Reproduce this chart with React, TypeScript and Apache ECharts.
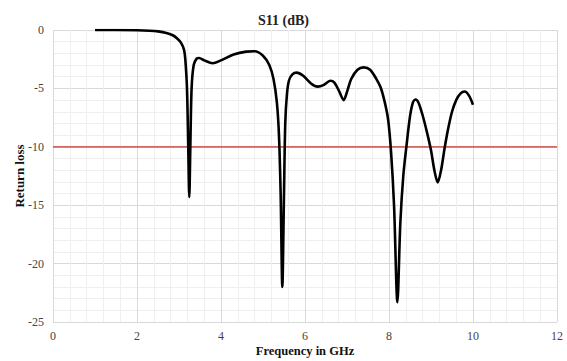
import React, { useEffect, useRef } from "react";
import * as echarts from "echarts";

const freq: number[] = [
  1.0, 1.5, 2.0, 2.3, 2.5, 2.7, 2.85, 2.95, 3.05, 3.12, 3.15, 3.19, 3.22, 3.245, 3.27, 3.3, 3.35, 3.42, 3.48,
  3.6, 3.8, 4.0, 4.3, 4.6, 4.8, 5.0, 5.15, 5.25, 5.33, 5.38, 5.42, 5.46, 5.5, 5.53, 5.57, 5.62, 5.7, 5.8,
  5.95, 6.15, 6.3, 6.45, 6.6, 6.7, 6.82, 6.92, 7.0, 7.1, 7.25, 7.4, 7.55, 7.7, 7.8, 7.9, 7.98, 8.05, 8.12,
  8.2, 8.27, 8.34, 8.42, 8.5, 8.57, 8.63, 8.7, 8.8, 8.9, 9.0, 9.08, 9.16, 9.24, 9.32, 9.4, 9.5, 9.6, 9.7,
  9.8, 9.9, 10.0,
];
const s11: number[] = [
  0, 0, -0.02, -0.06, -0.12, -0.25, -0.45, -0.7, -1.1, -1.7, -2.5, -5, -10, -14.3, -10, -5, -3, -2.45, -2.4,
  -2.6, -2.85, -2.6, -2.1, -1.85, -1.82, -2.2, -3.0, -4.2, -6.2, -9, -14, -22, -14, -8, -5.5, -4.3, -3.8, -3.65,
  -3.9, -4.6, -4.85, -4.7, -4.35, -4.5, -5.3, -6.0, -5.3, -4.2, -3.4, -3.2, -3.4, -4.2, -4.9, -6.2, -7.7, -10.5, -15,
  -23.3, -16.5, -12.5, -9.8, -7.4, -6.2, -5.95, -6.2, -7.3, -8.7, -10.3, -12, -13.05, -12, -10.2, -8.6, -7, -6, -5.45,
  -5.27, -5.6, -6.4,
];
const thresholdX: number[] = [0, 12];
const thresholdY: number[] = [-10, -10];

const serif = "'Liberation Serif', 'Times New Roman', serif";

export default function App() {
  const ref = useRef<HTMLDivElement>(null);
  useEffect(() => {
    if (!ref.current) return;
    const chart = echarts.init(ref.current, undefined, { renderer: "svg" });
    chart.setOption({
      animation: false,
      backgroundColor: "#ffffff",
      title: {
        text: "S11 (dB)",
        left: "center",
        top: 8,
        textStyle: { fontFamily: serif, fontSize: 14, fontWeight: "bold", color: "#222" },
      },
      grid: { left: 53, right: 10, top: 30, bottom: 39, containLabel: false, outerBoundsMode: "none" },
      xAxis: {
        type: "value",
        min: 0,
        max: 12,
        interval: 2,
        name: "Frequency in GHz",
        nameLocation: "middle",
        nameGap: 22,
        nameMoveOverlap: false,
        nameTextStyle: { fontFamily: serif, fontSize: 12.5, fontWeight: "bold", color: "#111" },
        axisLine: { show: false },
        axisTick: { show: false },
        axisLabel: { fontFamily: serif, fontSize: 12, color: "#444", margin: 8 },
        splitLine: { show: true, lineStyle: { color: "#d9d9d9", width: 1 } },
        minorTick: { show: false, splitNumber: 5 },
        minorSplitLine: { show: true, lineStyle: { color: "#efefef", width: 1 } },
      },
      yAxis: {
        type: "value",
        min: -25,
        max: 0,
        interval: 5,
        name: "Return loss",
        nameLocation: "middle",
        nameGap: 27,
        nameMoveOverlap: false,
        nameTextStyle: { fontFamily: serif, fontSize: 13, fontWeight: "bold", color: "#111" },
        axisLine: { show: false },
        axisTick: { show: false },
        axisLabel: { fontFamily: serif, fontSize: 12, color: "#444", margin: 9 },
        splitLine: { show: true, lineStyle: { color: "#d9d9d9", width: 1 } },
        minorTick: { show: false, splitNumber: 5 },
        minorSplitLine: { show: true, lineStyle: { color: "#efefef", width: 1 } },
      },
      series: [
        {
          type: "line",
          data: thresholdX.map((x, i) => [x, thresholdY[i]]),
          symbol: "none",
          lineStyle: { color: "#c0392b", width: 1.2 },
          silent: true,
        },
        {
          type: "line",
          data: freq.map((f, i) => [f, s11[i]]),
          symbol: "none",
          smooth: 0.3,
          lineStyle: { color: "#000000", width: 2.6 },
        },
      ],
    });
    return () => chart.dispose();
  }, []);
  return (
    <div
      ref={ref}
      style={{ position: "absolute", left: 0, top: 0, width: 567, height: 361 }}
    />
  );
}
